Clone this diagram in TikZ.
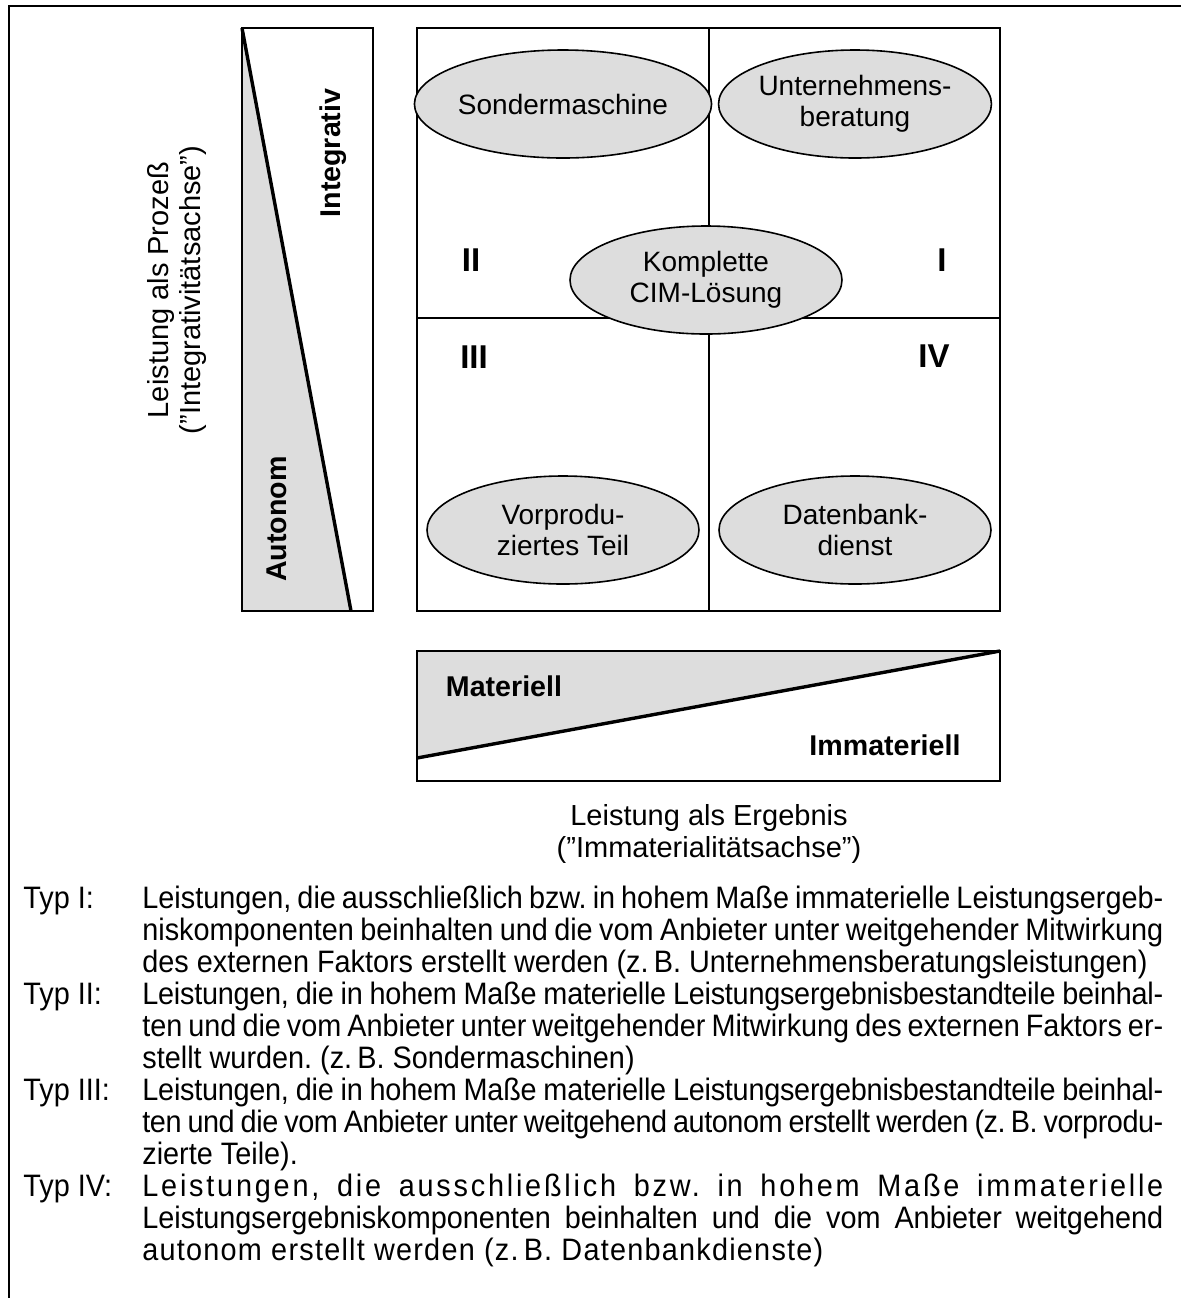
\documentclass[tikz,border=0pt]{standalone}
\usepackage{fontspec}
\setmainfont{Liberation Sans}
\newfontfamily\narrowsans{Liberation Sans}[FakeStretch=0.93]
\usetikzlibrary{shapes.geometric}

\definecolor{shadegray}{gray}{0.865}

% Wortabstaende stauchbar (wie im Satz des Originals)
\newcommand\tightspaces{\fontdimen4\font=0.7\fontdimen2\font}
\newcommand\squeeze[2]{{\addfontfeature{LetterSpace=#1}\tightspaces #2}}

\tikzset{
  frameline/.style={line width=1.1pt},
  boxline/.style={draw, line width=1pt},
  slopeline/.style={line width=1.7pt},
  bubble/.style={ellipse, draw, line width=0.8pt, fill=shadegray, inner sep=0pt,
    minimum width=136pt, minimum height=54pt, align=center,
    font=\fontsize{14}{15.5}\selectfont},
  quadnum/.style={inner sep=0pt, font=\fontsize{16.5}{16.5}\selectfont\bfseries},
  poletext/.style={inner sep=0pt, font=\fontsize{14.3}{14.3}\selectfont\bfseries},
  axistext/.style={inner sep=0pt, align=center, font=\fontsize{14.5}{16}\selectfont},
}

\begin{document}
\begin{tikzpicture}[x=0.5pt, y=-0.5pt, line join=miter]

  %% ==== Rahmen ====
  \draw[frameline] (9,1298) -- (9,6) -- (1181,6);

  %% ==== Integrativitaetsachse (links) ====
  \coordinate (barNW) at (242,28);
  \coordinate (barSE) at (373,611);
  \coordinate (barSW) at (242,611);
  \coordinate (barTip) at (351,611);
  \fill[shadegray] (barNW) -- (barSW) -- (barTip) -- cycle;
  \draw[boxline] (barNW) rectangle (barSE);
  \draw[slopeline] (barNW) -- (barTip);
  \node[poletext, rotate=90] (integrativ) at (333,153) {Integrativ};
  \node[poletext, rotate=90] (autonom) at (277,519) {Autonom};

  %% ==== Matrix ====
  \coordinate (mNW) at (417,28);
  \coordinate (mSE) at (1000,611);
  \coordinate (mN) at (709,28);
  \coordinate (mS) at (709,611);
  \coordinate (mW) at (417,318);
  \coordinate (mE) at (1000,318);
  \draw[boxline] (mNW) rectangle (mSE);
  \draw[line width=1pt] (mN) -- (mS);
  \draw[line width=1pt] (mW) -- (mE);

  \node[quadnum] (qII) at (471,260) {II};
  \node[quadnum] (qI) at (942,260) {I};
  \node[quadnum] (qIII) at (474,357) {III};
  \node[quadnum] (qIV) at (934,356) {IV};

  \node[bubble] (sonder) at (563,104) {Sondermaschine};
  \node[bubble] (beratung) at (855,104) {Unternehmens-\\beratung};
  \node[bubble] (cim) at (706,280) {Komplette\\CIM-Lösung};
  \node[bubble] (vorprod) at (563,530) {Vorprodu-\\ziertes Teil};
  \node[bubble] (datenbank) at (855,530) {Datenbank-\\dienst};

  %% ==== Immaterialitaetsachse (unten) ====
  \coordinate (lowNW) at (417,651);
  \coordinate (lowNE) at (1000,651);
  \coordinate (lowSE) at (1000,781);
  \coordinate (lowW) at (417,758);
  \fill[shadegray] (lowNW) -- (lowNE) -- (lowW) -- cycle;
  \draw[boxline] (lowNW) rectangle (lowSE);
  \draw[slopeline] (lowW) -- (lowNE);
  \node[poletext] (materiell) at (504,686) {Materiell};
  \node[poletext] (immateriell) at (885,745) {Immateriell};

  %% ==== Achsenbeschriftungen ====
  \node[axistext, rotate=90] (prozess) at (177,290)
    {Leistung als Prozeß\\(”Integrativitätsachse”)};
  \node[axistext] (ergebnis) at (709,834)
    {Leistung als Ergebnis\\(”Immaterialitätsachse”)};

  %% ==== Legende ====
  \node[anchor=north west, inner sep=0pt, text width=570pt, align=justify,
        font=\narrowsans\fontsize{15.5}{16}\selectfont] (legende) at (23,886)
  {\tightspaces\frenchspacing\tolerance=10000\hyphenpenalty=10000\exhyphenpenalty=10000\parindent=0pt
   \hangindent=59.5pt\hangafter=1
   \makebox[59.5pt][l]{Typ I:}Leistungen, die ausschließlich bzw. in hohem Maße immaterielle Leistungsergeb-\linebreak
   niskomponenten beinhalten und die vom Anbieter unter weitgehender Mitwirkung\linebreak
   des externen Faktors erstellt werden (z.\,B. Unternehmensberatungsleistungen)\par
   \hangindent=59.5pt\hangafter=1
   \makebox[59.5pt][l]{Typ II:}\squeeze{-0.8}{Leistungen, die in hohem Maße materielle Leistungsergebnisbestandteile beinhal-}\linebreak
   ten und die vom Anbieter unter weitgehender Mitwirkung des externen Faktors er-\linebreak
   stellt wurden. (z.\,B. Sondermaschinen)\par
   \hangindent=59.5pt\hangafter=1
   \makebox[59.5pt][l]{Typ III:}\squeeze{-0.8}{Leistungen, die in hohem Maße materielle Leistungsergebnisbestandteile beinhal-}\linebreak
   \squeeze{-1.5}{ten und die vom Anbieter unter weitgehend autonom erstellt werden (z.\,B. vorprodu-}\linebreak
   zierte Teile).\par
   \hangindent=59.5pt\hangafter=1
   \makebox[59.5pt][l]{Typ IV:}{\addfontfeature{LetterSpace=9}Leistungen, die ausschließlich bzw. in hohem Maße immaterielle}\linebreak
   Leistungsergebniskomponenten beinhalten und die vom Anbieter weitgehend\linebreak
   {\addfontfeature{LetterSpace=4}autonom erstellt werden (z.\,B. Datenbankdienste)}\par};

  % Leinwand festhalten
  \pgfresetboundingbox
  \path[use as bounding box] (0,0) rectangle (1181,1298);
\end{tikzpicture}
\end{document}
